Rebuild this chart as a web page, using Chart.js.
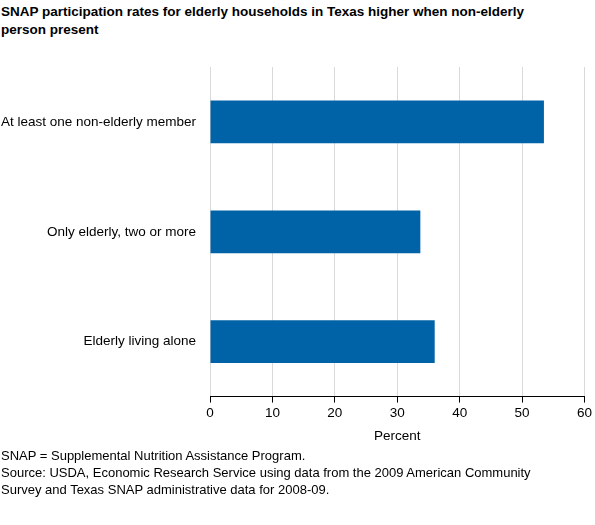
<!DOCTYPE html>
<html>
<head>
<script src="https://cdn.jsdelivr.net/npm/chart.js@4"></script>
<style>
body { margin:0; width:595px; height:525px; background:#fff; font-family:"Liberation Sans", Arial, sans-serif; position:relative; overflow:hidden; }
#title { position:absolute; left:1px; top:3px; width:565px; font-weight:bold; font-size:13.5px; line-height:18px; color:#000; }
#wrap { position:absolute; left:0; top:50px; width:595px; height:398px; }
#notes { position:absolute; left:1px; top:447px; font-size:13px; line-height:17px; color:#000; }
</style>
</head>
<body>
<div id="title">SNAP participation rates for elderly households in Texas higher when non-elderly person present</div>
<div id="wrap"><canvas id="c"></canvas></div>
<div id="notes">SNAP = Supplemental Nutrition Assistance Program.<br>Source: USDA, Economic Research Service using data from the 2009 American Community<br>Survey and Texas SNAP administrative data for 2008-09.</div>
<script>
const categories = ['At least one non-elderly member', 'Only elderly, two or more', 'Elderly living alone'];
const values = [53.5, 33.7, 36.0];
const xTicks = [0, 10, 20, 30, 40, 50, 60];

new Chart(document.getElementById('c'), {
    type: 'bar',
    data: {
        labels: categories,
        datasets: [{ data: values, backgroundColor: '#0063a7', barPercentage: 0.39, categoryPercentage: 1 }]
    },
    options: {
        indexAxis: 'y',
        responsive: true,
        maintainAspectRatio: false,
        animation: false,
        layout: { padding: { top: 17, right: 4, bottom: 0, left: 0 } },
        plugins: { legend: { display: false }, tooltip: { enabled: false } },
        scales: {
            x: {
                min: 0, max: 60,
                afterBuildTicks: ax => { ax.ticks = xTicks.map(v => ({ value: v })); },
                grid: { color: '#d9d9d9', drawTicks: true, tickLength: 6, tickColor: '#000' },
                border: { color: '#000' },
                ticks: { color: '#000', font: { family: 'Liberation Sans', size: 13.5 }, padding: 3 },
                title: { display: true, text: 'Percent', color: '#000', font: { family: 'Liberation Sans', size: 13.5 }, padding: { top: 3 } }
            },
            y: {
                afterFit: ax => { ax.width = 210; },
                grid: { display: false },
                border: { display: false },
                ticks: { color: '#000', font: { family: 'Liberation Sans', size: 13.5 }, padding: 6 }
            }
        }
    }
});
</script>
</body>
</html>
